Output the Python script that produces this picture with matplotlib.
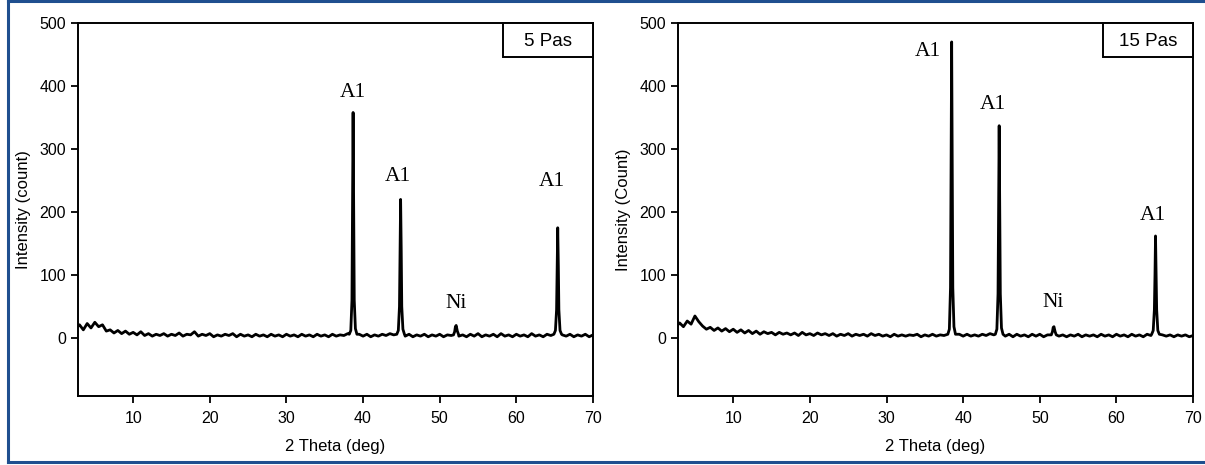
import numpy as np
import matplotlib.pyplot as plt
from matplotlib.lines import Line2D
from matplotlib.patches import Rectangle

# scan grid for the background (deg), 0.5 deg step
base_x = np.arange(2.5, 70.51, 0.5)

# background counts
base_5 = [15, 21, 13, 23, 16, 25, 18, 21, 11, 13,
          8, 12, 7, 11, 6, 9, 5, 10, 4, 7,
          3, 6, 4, 7, 3, 6, 4, 8, 3, 6,
          5, 10, 3, 6, 4, 7, 2, 5, 3, 6,
          4, 7, 2, 6, 3, 5, 2, 6, 3, 5,
          2, 6, 3, 5, 2, 6, 3, 5, 2, 6,
          3, 5, 2, 6, 3, 5, 2, 6, 3, 5,
          4, 7, 5, 5, 6, 3, 6, 2, 5, 3,
          6, 4, 7, 5, 5, 5, 3, 6, 2, 5,
          3, 6, 2, 5, 3, 6, 2, 5, 4, 6,
          3, 5, 2, 6, 3, 7, 2, 5, 3, 6,
          2, 7, 3, 5, 2, 6, 3, 5, 2, 7,
          3, 5, 2, 6, 4, 5, 5, 5, 3, 6,
          2, 5, 3, 6, 2, 5, 3]

base_15 = [17, 24, 18, 27, 22, 35, 26, 19, 14, 17,
           12, 16, 11, 15, 10, 14, 9, 13, 8, 12,
           7, 11, 6, 10, 7, 9, 5, 9, 6, 8,
           5, 8, 4, 9, 5, 7, 4, 8, 5, 7,
           4, 7, 3, 6, 4, 7, 3, 6, 4, 6,
           3, 7, 4, 6, 3, 5, 2, 6, 3, 5,
           3, 5, 4, 6, 2, 5, 3, 6, 3, 5,
           4, 6, 5, 5, 6, 3, 6, 3, 5, 3,
           6, 4, 7, 5, 5, 5, 3, 6, 2, 6,
           3, 5, 2, 6, 3, 6, 2, 5, 4, 6,
           3, 5, 2, 5, 3, 6, 2, 5, 3, 5,
           2, 6, 3, 5, 2, 6, 3, 5, 2, 6,
           3, 5, 2, 6, 4, 5, 5, 5, 3, 5,
           2, 5, 3, 5, 2, 4, 3]

# peak profiles (2theta, counts)
peaks_5 = [
    ([38.2, 38.4, 38.55, 38.62, 38.7, 38.78, 38.85, 39.0, 39.2],
     [6, 12, 60, 200, 358, 210, 60, 15, 6]),
    ([44.4, 44.6, 44.75, 44.82, 44.9, 44.98, 45.05, 45.2, 45.4],
     [6, 12, 50, 130, 220, 140, 50, 14, 6]),
    ([51.8, 51.95, 52.05, 52.15, 52.3, 52.45],
     [5, 10, 18, 20, 11, 6]),
    ([64.9, 65.1, 65.25, 65.33, 65.4, 65.48, 65.55, 65.7, 65.9],
     [6, 12, 45, 110, 175, 115, 45, 12, 6]),
]
peaks_15 = [
    ([38.0, 38.2, 38.35, 38.42, 38.5, 38.58, 38.65, 38.8, 39.0],
     [6, 14, 80, 260, 470, 280, 80, 18, 6]),
    ([44.2, 44.4, 44.55, 44.62, 44.7, 44.78, 44.85, 45.0, 45.2],
     [6, 14, 70, 190, 337, 200, 70, 16, 6]),
    ([51.5, 51.65, 51.75, 51.85, 52.0, 52.15],
     [5, 10, 17, 18, 10, 5]),
    ([64.6, 64.8, 64.95, 65.03, 65.1, 65.18, 65.25, 65.4, 65.6],
     [6, 12, 45, 100, 162, 105, 45, 12, 6]),
]

labels_5 = [("A1", 38.7, 389), ("A1", 44.6, 256), ("Ni", 52.1, 55), ("A1", 64.6, 249)]
labels_15 = [("A1", 35.4, 454), ("A1", 43.9, 370), ("Ni", 51.7, 57), ("A1", 64.8, 195)]

panels = [
    (base_5, peaks_5, labels_5, "5 Pas", "Intensity (count)"),
    (base_15, peaks_15, labels_15, "15 Pas", "Intensity (Count)"),
]


def build_pattern(base_y, peaks):
    x = np.array(base_x, dtype=float)
    y = np.array(base_y, dtype=float)
    keep = np.ones(len(x), dtype=bool)
    for px, py in peaks:
        keep &= ~((x >= px[0]) & (x <= px[-1]))
    x = x[keep]
    y = y[keep]
    for px, py in peaks:
        x = np.concatenate([x, px])
        y = np.concatenate([y, py])
    order = np.argsort(x)
    return x[order], y[order]


plt.rcParams['font.family'] = ['Liberation Sans', 'DejaVu Sans']

fig = plt.figure(figsize=(12.05, 4.65), dpi=100)
lefts = [0.0647, 0.5627]

for k, (base_y, peaks, labels, tag, ylab) in enumerate(panels):
    ax = fig.add_axes([lefts[k], 0.1484, 0.4274, 0.8021])
    x, y = build_pattern(base_y, peaks)
    ax.plot(x, y, color="black", linewidth=2.0, solid_joinstyle="round")

    for txt, tx, ty in labels:
        ax.text(tx, ty, txt, ha="center", va="center", fontsize=15.5,
                family="Liberation Serif")

    ax.add_patch(Rectangle((0.826, 0.909), 0.174, 0.091, transform=ax.transAxes,
                           facecolor="white", edgecolor="black", linewidth=1.4,
                           clip_on=False, zorder=5))
    ax.text(0.913, 0.951, tag, transform=ax.transAxes, ha="center", va="center",
            fontsize=13.5, zorder=6)

    ax.set_xlim(2.8, 70)
    ax.set_ylim(-92, 500)
    ax.set_xticks([10, 20, 30, 40, 50, 60, 70])
    ax.set_yticks([0, 100, 200, 300, 400, 500])
    ax.tick_params(direction="out", length=5, width=1.3, labelsize=11.5,
                   top=False, right=False)
    ax.tick_params(axis="x", pad=6)
    for sp in ax.spines.values():
        sp.set_linewidth(1.4)

    ax.set_xlabel("2 Theta (deg)", fontsize=12)
    ax.set_ylabel(ylab, fontsize=12)
    ax.xaxis.set_label_coords(0.5, -0.115)
    ax.yaxis.set_label_coords(-0.092, 0.5)

# blue frame around the figure (open on the right)
frame = "#1f4f8f"
fig.add_artist(Line2D([0.0066, 0.0066], [0.006, 0.998], color=frame, linewidth=2.2,
                      transform=fig.transFigure))
fig.add_artist(Line2D([0.0066, 1.0], [0.998, 0.998], color=frame, linewidth=2.2,
                      transform=fig.transFigure))
fig.add_artist(Line2D([0.0066, 1.0], [0.006, 0.006], color=frame, linewidth=2.2,
                      transform=fig.transFigure))

fig.savefig("out.png", dpi=100)
